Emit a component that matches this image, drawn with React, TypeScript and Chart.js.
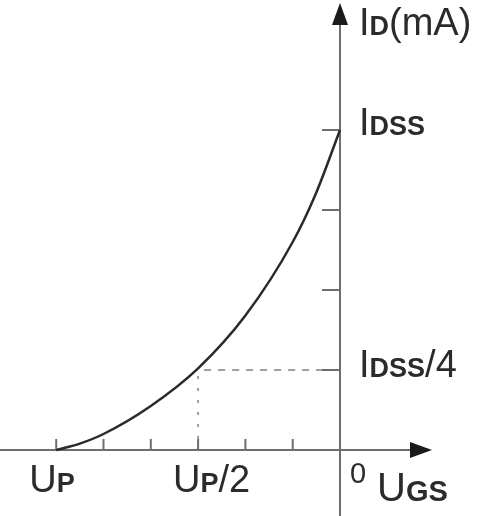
import React, { useEffect, useRef } from "react";
import { Chart, registerables } from "chart.js";

Chart.register(...registerables);

// UGS in units of Up/6 (Up = -6), ID in units of Idss/4 (Idss = 4)
const curveUgs = [-6, -5.5, -5, -4, -3, -2, -1, -0.5, 0];
const curveId = [0, 0.08, 0.2, 0.55, 1.02, 1.68, 2.6, 3.22, 4];
const xTicks = [-6, -5, -4, -3, -2, -1];
const yTicks = [1, 2, 3, 4];
const guidePoint = { x: -3, y: 1 };

const AXIS = "#6e6e6e";
const INK = "#2b2b2b";
const MAIN = "38px 'Liberation Sans', Arial, sans-serif";
const SUB = "bold 27px 'Liberation Sans', Arial, sans-serif";

function drawParts(ctx: CanvasRenderingContext2D, x: number, y: number, parts: [string, string][]) {
  let cx = x;
  ctx.textAlign = "left";
  ctx.textBaseline = "alphabetic";
  for (const [t, f] of parts) {
    ctx.font = f;
    ctx.fillText(t, cx, y);
    cx += ctx.measureText(t).width;
  }
}

const axesPlugin = {
  id: "axesPlugin",
  beforeDatasetsDraw(chart: any) {
    const ctx: CanvasRenderingContext2D = chart.ctx;
    const xs = chart.scales.x;
    const ys = chart.scales.y;
    const x0 = xs.getPixelForValue(0);
    const y0 = ys.getPixelForValue(0);
    const W = chart.width;
    const H = chart.height;
    ctx.save();
    // guides
    const gx = xs.getPixelForValue(guidePoint.x);
    const gy = ys.getPixelForValue(guidePoint.y);
    ctx.strokeStyle = "#808080";
    ctx.lineWidth = 1.5;
    ctx.setLineDash([7, 7]);
    ctx.beginPath();
    ctx.moveTo(gx + 6, gy);
    ctx.lineTo(x0, gy);
    ctx.stroke();
    ctx.setLineDash([3, 9]);
    ctx.beginPath();
    ctx.moveTo(gx, gy + 6);
    ctx.lineTo(gx, y0);
    ctx.stroke();
    ctx.setLineDash([]);

    // axes
    ctx.strokeStyle = AXIS;
    ctx.lineWidth = 2;
    ctx.beginPath();
    ctx.moveTo(0, y0);
    ctx.lineTo(W - 60, y0);
    ctx.moveTo(x0, H);
    ctx.lineTo(x0, 14);
    ctx.stroke();
    // ticks
    for (const t of xTicks) {
      const px = xs.getPixelForValue(t);
      ctx.beginPath();
      ctx.moveTo(px, y0);
      ctx.lineTo(px, y0 - 11);
      ctx.stroke();
    }
    for (const t of yTicks) {
      const py = ys.getPixelForValue(t);
      ctx.beginPath();
      ctx.moveTo(x0, py);
      ctx.lineTo(x0 - 18, py);
      ctx.stroke();
    }
    // arrows
    ctx.fillStyle = "#1a1a1a";
    ctx.beginPath();
    ctx.moveTo(W - 48, y0);
    ctx.lineTo(W - 70, y0 - 8);
    ctx.lineTo(W - 70, y0 + 8);
    ctx.closePath();
    ctx.fill();
    ctx.beginPath();
    ctx.moveTo(x0, 3);
    ctx.lineTo(x0 - 8, 25);
    ctx.lineTo(x0 + 8, 25);
    ctx.closePath();
    ctx.fill();

    // labels
    ctx.fillStyle = INK;
    const yIdss = ys.getPixelForValue(4);
    const yQ = ys.getPixelForValue(1);
    drawParts(ctx, x0 + 19, 35, [["I", MAIN], ["D", SUB], ["(mA)", MAIN]]);
    drawParts(ctx, x0 + 19, yIdss + 5, [["I", MAIN], ["DSS", SUB]]);
    drawParts(ctx, x0 + 19, yQ + 7, [["I", MAIN], ["DSS", SUB], ["/4", MAIN]]);
    drawParts(ctx, xs.getPixelForValue(-6) - 27, y0 + 42, [["U", MAIN], ["P", SUB]]);
    drawParts(ctx, xs.getPixelForValue(-3) - 25, y0 + 42, [["U", MAIN], ["P", SUB], ["/2", MAIN]]);
    drawParts(ctx, x0 + 10, y0 + 33, [["0", "29px 'Liberation Sans', Arial, sans-serif"]]);
    drawParts(ctx, x0 + 37, y0 + 51, [["U", "40px 'Liberation Sans', Arial, sans-serif"], ["GS", "bold 29px 'Liberation Sans', Arial, sans-serif"]]);
    ctx.restore();
  },
};

export default function App() {
  const ref = useRef<HTMLCanvasElement>(null);
  useEffect(() => {
    document.body.style.margin = "0";
    document.body.style.background = "#ffffff";
    const canvas = ref.current!;
    const chart = new Chart(canvas, {
      type: "line",
      data: {
        datasets: [
          {
            data: curveUgs.map((u, i) => ({ x: u, y: curveId[i] })),
            borderColor: "#2a2a2a",
            borderWidth: 2.5,
            pointRadius: 0,
            cubicInterpolationMode: "monotone",
            fill: false,
          },
        ],
      },
      options: {
        responsive: false,
        animation: false,
        events: [],
        layout: { padding: 0 },
        plugins: { legend: { display: false }, tooltip: { enabled: false } },
        scales: {
          x: { type: "linear", display: false, min: -340 / 47.3, max: 140 / 47.3 },
          y: { type: "linear", display: false, min: -66 / 80, max: 450 / 80 },
        },
      },
      plugins: [axesPlugin],
    } as any);
    return () => chart.destroy();
  }, []);
  return (
    <div style={{ width: 480, height: 516, background: "#fff" }}>
      <canvas ref={ref} width={480} height={516} style={{ display: "block" }} />
    </div>
  );
}
